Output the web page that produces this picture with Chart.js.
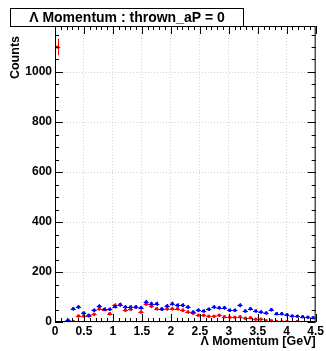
<!DOCTYPE html>
<html>
<head>
<meta charset="utf-8">
<script src="https://cdn.jsdelivr.net/npm/chart.js@4.4.1/dist/chart.umd.min.js"></script>
<style>
html, body { margin: 0; padding: 0; background: #fff; }
</style>
</head>
<body>
<canvas id="momentumChart" width="326" height="351"></canvas>
<script>
// bin centres of the Lambda momentum histogram (GeV)
const binCenters = [
    0.045, 0.135, 0.225, 0.315, 0.405, 0.495, 0.585, 0.675, 0.765, 0.855,
    0.945, 1.035, 1.125, 1.215, 1.305, 1.395, 1.485, 1.575, 1.665, 1.755,
    1.845, 1.935, 2.025, 2.115, 2.205, 2.295, 2.385, 2.475, 2.565, 2.655,
    2.745, 2.835, 2.925, 3.015, 3.105, 3.195, 3.285, 3.375, 3.465, 3.555,
    3.645, 3.735, 3.825, 3.915, 4.005, 4.095, 4.185, 4.275, 4.365, 4.455
];
const countsRed = [
    1100, null, null, 2, 24, 24, 24, 31, 53, 50,
    33, 67, 69, 47, 51, 60, 40, 72, 63, 53,
    53, 53, 53, 53, 47, 40, 35, 27, 27, 23,
    23, 27, 21, 19, 19, 21, 15, 17, 11, 11,
    5, 5, 2, 1, 2, null, 2, null, null, null
];
const countsBlue = [
    null, null, 7, 53, 60, 36, 27, 47, 63, 51,
    51, 62, 69, 60, 60, 60, 57, 80, 73, 73,
    51, 64, 73, 67, 67, 60, 40, 47, 44, 51,
    60, 57, 57, 47, 47, 67, 44, 53, 44, 40,
    36, 49, 33, 33, 29, 24, 23, 21, 19, 17
];
const xTicks = [0, 0.5, 1, 1.5, 2, 2.5, 3, 3.5, 4, 4.5];
const yTicks = [0, 200, 400, 600, 800, 1000];

const fontFamily = '"Liberation Sans", Arial, Helvetica, sans-serif';

function toPoints(counts) {
    return binCenters
        .map((x, i) => counts[i] == null ? null : { x: x, y: counts[i] })
        .filter(p => p);
}

// error bars, frame, inner ticks and titles drawn ROOT-style
const rootStyle = {
    id: 'rootStyle',
    beforeDatasetsDraw(chart) {
        const { ctx, chartArea: a, scales: { x, y } } = chart;
        const half = (binCenters[1] - binCenters[0]) / 2;
        ctx.save();
        ctx.beginPath();
        ctx.rect(a.left, a.top, a.right - a.left, a.bottom - a.top);
        ctx.clip();
        ctx.lineWidth = 1;
        chart.data.datasets.slice().reverse().forEach(ds => {
            ctx.strokeStyle = ds.borderColor;
            ds.data.forEach(p => {
                const px = Math.round(x.getPixelForValue(p.x)) + 0.5;
                const py = Math.round(y.getPixelForValue(p.y)) + 0.5;
                const err = Math.sqrt(p.y);
                ctx.beginPath();
                ctx.moveTo(x.getPixelForValue(p.x - half), py);
                ctx.lineTo(x.getPixelForValue(p.x + half), py);
                ctx.moveTo(px, y.getPixelForValue(p.y - err));
                ctx.lineTo(px, y.getPixelForValue(p.y + err));
                ctx.stroke();
            });
        });
        ctx.restore();
    },
    afterDraw(chart) {
        const { ctx, chartArea: a, scales: { x, y } } = chart;
        ctx.save();
        ctx.strokeStyle = '#000';
        ctx.lineWidth = 1;

        // frame
        ctx.strokeRect(a.left + 0.5, a.top + 0.5, a.right - a.left - 1, a.bottom - a.top - 1);

        ctx.beginPath();
        // x ticks (major + 4 minor), bottom and top
        for (let i = 0; i < xTicks.length; i++) {
            const step = i < xTicks.length - 1 ? (xTicks[i + 1] - xTicks[i]) / 5 : 0;
            for (let j = 0; j < 5; j++) {
                if (j > 0 && !step) break;
                const px = Math.round(x.getPixelForValue(xTicks[i] + j * step)) + 0.5;
                const len = j === 0 ? 8 : 4;
                ctx.moveTo(px, a.bottom);
                ctx.lineTo(px, a.bottom - len);
                ctx.moveTo(px, a.top);
                ctx.lineTo(px, a.top + len);
            }
        }
        // y ticks (major + 3 minor), left and right
        const yStep = (yTicks[1] - yTicks[0]) / 4;
        for (let v = 0, k = 0; v <= y.max; v += yStep, k++) {
            const py = Math.round(y.getPixelForValue(v)) + 0.5;
            const len = k % 4 === 0 ? 8 : 4;
            ctx.moveTo(a.left, py);
            ctx.lineTo(a.left + len, py);
            ctx.moveTo(a.right, py);
            ctx.lineTo(a.right - len, py);
        }
        ctx.stroke();

        // axis titles
        ctx.fillStyle = '#000';
        ctx.font = 'bold 12.5px ' + fontFamily;
        ctx.textBaseline = 'middle';
        ctx.textAlign = 'right';
        ctx.fillText('\u039B Momentum [GeV]', a.right, 342);
        ctx.save();
        ctx.translate(16, 36);
        ctx.rotate(-Math.PI / 2);
        ctx.fillText('Counts', 0, 0);
        ctx.restore();

        // title box
        ctx.fillStyle = '#fff';
        ctx.fillRect(10, 8, 233, 18);
        ctx.strokeRect(10.5, 8.5, 233, 18);
        ctx.fillStyle = '#000';
        ctx.font = 'bold 14px ' + fontFamily;
        ctx.textAlign = 'center';
        ctx.fillText('\u039B Momentum : thrown_aP = 0', 127, 18);
        ctx.restore();
    }
};

const ctx = document.getElementById('momentumChart').getContext('2d');
new Chart(ctx, {
    type: 'scatter',
    data: {
        datasets: [{
            label: 'blue',
            data: toPoints(countsBlue),
            borderColor: '#0000ff',
            backgroundColor: '#0000ff',
            pointRadius: 1.8,
            borderWidth: 0
        }, {
            label: 'red',
            data: toPoints(countsRed),
            borderColor: '#ff0000',
            backgroundColor: '#ff0000',
            pointRadius: 1.8,
            borderWidth: 0
        }]
    },
    options: {
        responsive: false,
        animation: false,
        layout: {
            padding: { top: 26, right: 9, left: 0, bottom: 0 }
        },
        scales: {
            x: {
                type: 'linear',
                min: 0,
                max: 4.5,
                afterBuildTicks: scale => { scale.ticks = xTicks.map(v => ({ value: v })); },
                afterFit: scale => { scale.height = 29; },
                grid: { color: '#d0d0d0', drawTicks: false },
                border: { display: false, dash: [1, 2] },
                ticks: {
                    autoSkip: false,
                    maxRotation: 0,
                    padding: 2,
                    color: '#000',
                    font: { family: fontFamily, size: 12, weight: 'bold' },
                    callback: v => String(v)
                }
            },
            y: {
                min: 0,
                max: 1184,
                afterBuildTicks: scale => { scale.ticks = yTicks.map(v => ({ value: v })); },
                afterFit: scale => { scale.width = 55; },
                grid: { color: '#d0d0d0', drawTicks: false },
                border: { display: false, dash: [1, 2] },
                ticks: {
                    padding: 3,
                    color: '#000',
                    font: { family: fontFamily, size: 12, weight: 'bold' },
                    callback: v => String(v)
                }
            }
        },
        plugins: {
            legend: { display: false },
            tooltip: { enabled: false }
        }
    },
    plugins: [rootStyle]
});
</script>
</body>
</html>
